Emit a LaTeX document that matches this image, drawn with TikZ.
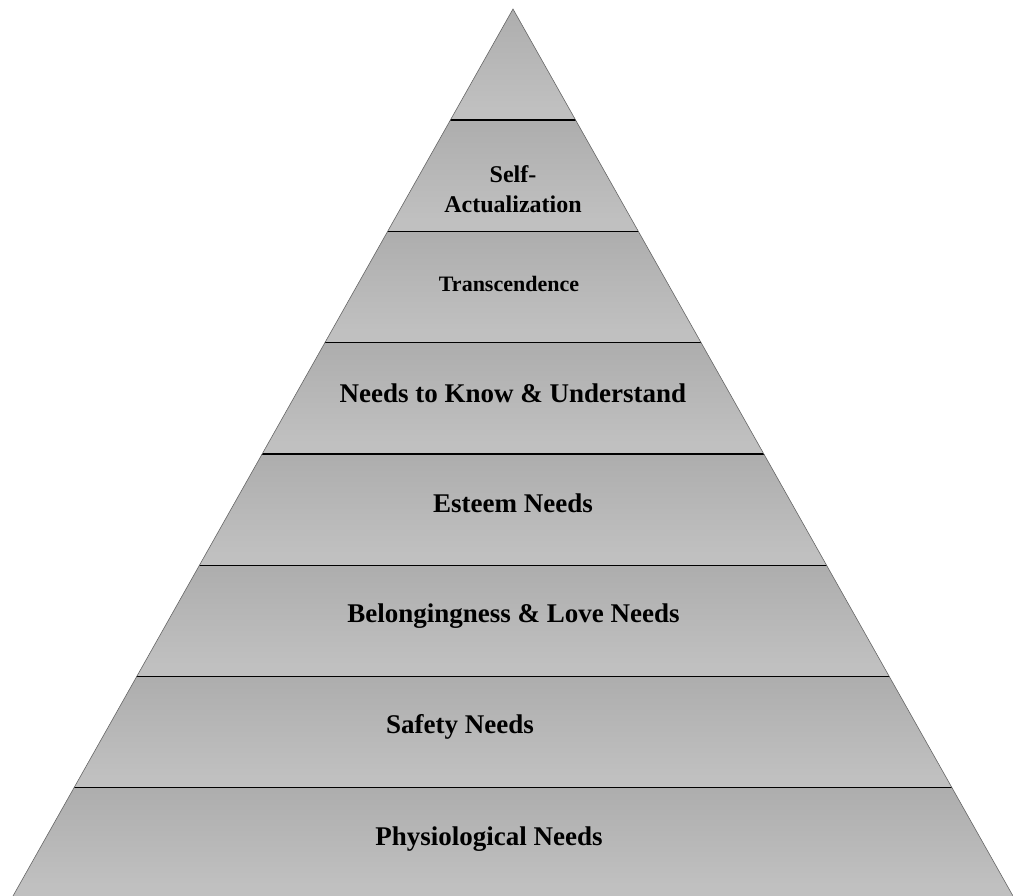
\documentclass[tikz,border=0pt]{standalone}
\usepackage{fontspec}
\setmainfont{Liberation Serif}
\definecolor{bandtop}{RGB}{163,163,163}
\definecolor{bandbot}{RGB}{192,192,192}
\pgfdeclareverticalshading{band}{100bp}{color(0bp)=(bandbot); color(30bp)=(bandbot); color(100bp)=(bandtop)}
\tikzset{
  level/.style={shading=band},
  divider/.style={draw=black, line width=1.3pt},
  rim/.style={draw=black!60, line width=0.6pt},
  biglabel/.style={anchor=base, font=\bfseries\fontsize{27}{30}\selectfont, inner sep=0pt},
  toplabel/.style={anchor=base, font=\bfseries\fontsize{24}{30}\selectfont, inner sep=0pt},
  midlabel/.style={anchor=base, font=\bfseries\fontsize{22}{26}\selectfont, inner sep=0pt}
}
\begin{document}
\begin{tikzpicture}[x=1pt,y=-1pt]
\useasboundingbox (0,0) rectangle (1013,896);
% the pyramid outline
\coordinate (apex) at (513,9);
\coordinate (bl) at (13,896);
\coordinate (br) at (1013,896);
\begin{scope}
  \clip (apex) -- (bl) -- (br) -- cycle;
  \foreach \ya/\yb in {9/120, 120/231.3, 231.3/342.6, 342.6/453.9, 453.9/565.2, 565.2/676.5, 676.5/787.8, 787.8/896}{
    \shade[level] (0,\ya) rectangle (1013,\yb);
  }
  \foreach \y in {120, 231.3, 342.6, 453.9, 565.2, 676.5, 787.8}{
    \draw[divider] (0,\y) -- (1013,\y);
  }
\end{scope}
\draw[rim] (bl) -- (apex) -- (br);
% level captions
\node[toplabel] (self1) at (513,183) {Self-};
\node[toplabel] (self2) at (513,213) {Actualization};
\node[midlabel] (trans) at (509,292) {Transcendence};
\node[biglabel] (know) at (513,402) {Needs to Know \& Understand};
\node[biglabel] (esteem) at (513,512) {Esteem Needs};
\node[biglabel] (belong) at (513.5,622) {Belongingness \& Love Needs};
\node[biglabel] (safety) at (460,733) {Safety Needs};
\node[biglabel] (physio) at (489,845) {Physiological Needs};
\end{tikzpicture}
\end{document}
